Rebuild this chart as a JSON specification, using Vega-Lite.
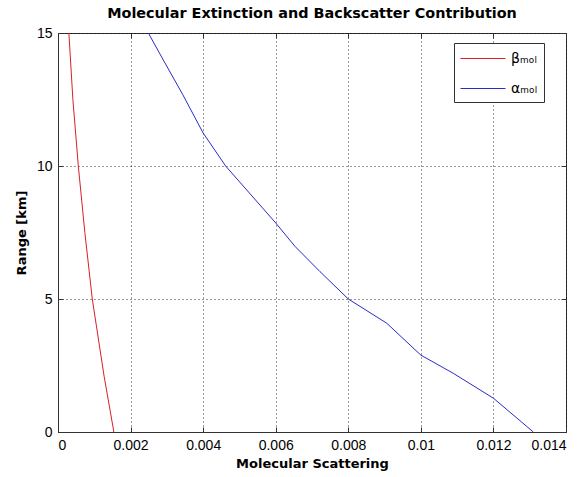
{
  "$schema": "https://vega.github.io/schema/vega-lite/v6.json",
  "width": 508,
  "height": 399,
  "autosize": {"type": "none"},
  "padding": {"left": 58, "top": 33, "right": 14, "bottom": 45},
  "background": "white",
  "title": {"text": "Molecular Extinction and Backscatter Contribution", "font": "DejaVu Sans", "fontSize": 14.4, "fontWeight": "bold", "color": "black", "anchor": "middle", "offset": 5},
  "config": {
    "view": {"stroke": "#333", "strokeWidth": 1},
    "axis": {
      "labelFont": "Liberation Sans", "labelFontSize": 14, "labelColor": "black",
      "titleFont": "DejaVu Sans", "titleFontSize": 13, "titleFontWeight": "bold", "titleColor": "black",
      "domainColor": "#333", "tickColor": "#333", "tickSize": -5,
      "gridColor": "#000", "gridDash": [1, 3], "gridOpacity": 0.8
    },
    "legend": {
      "orient": "none", "legendX": 396, "legendY": 10, "strokeColor": "#333", "fillColor": "white",
      "padding": 6, "symbolType": "M-1,0H4", "symbolStrokeWidth": 1, "symbolSize": 324,
      "labelOffset": 32, "rowPadding": 13,
      "labelFont": "DejaVu Sans", "labelFontSize": 14, "labelColor": "black"
    }
  },
  "data": {"values": [
    {"series": "βₘₒₗ", "x": 0.00154, "range": 0},
    {"series": "βₘₒₗ", "x": 0.00127, "range": 2.1},
    {"series": "βₘₒₗ", "x": 0.000945, "range": 5},
    {"series": "βₘₒₗ", "x": 0.00074, "range": 7.5},
    {"series": "βₘₒₗ", "x": 0.00056, "range": 10},
    {"series": "βₘₒₗ", "x": 0.00041, "range": 12.5},
    {"series": "βₘₒₗ", "x": 0.0003, "range": 15},
    {"series": "αₘₒₗ", "x": 0.0131, "range": 0},
    {"series": "αₘₒₗ", "x": 0.0120, "range": 1.27},
    {"series": "αₘₒₗ", "x": 0.01089, "range": 2.21},
    {"series": "αₘₒₗ", "x": 0.0100, "range": 2.89},
    {"series": "αₘₒₗ", "x": 0.00906, "range": 4.09},
    {"series": "αₘₒₗ", "x": 0.0080, "range": 5},
    {"series": "αₘₒₗ", "x": 0.00722, "range": 6.03},
    {"series": "αₘₒₗ", "x": 0.00653, "range": 6.98},
    {"series": "αₘₒₗ", "x": 0.0060, "range": 7.86},
    {"series": "αₘₒₗ", "x": 0.00462, "range": 10},
    {"series": "αₘₒₗ", "x": 0.0040, "range": 11.24},
    {"series": "αₘₒₗ", "x": 0.00344, "range": 12.68},
    {"series": "αₘₒₗ", "x": 0.00292, "range": 13.94},
    {"series": "αₘₒₗ", "x": 0.00249, "range": 15}
  ]},
  "layer": [
    {
      "mark": {"type": "line", "strokeWidth": 1, "clip": true},
      "encoding": {
        "x": {"field": "x", "type": "quantitative", "scale": {"domain": [0, 0.014], "nice": false, "zero": false},
              "axis": {"values": [0, 0.002, 0.004, 0.006, 0.008, 0.01, 0.012, 0.014], "format": ".3~f", "title": "Molecular Scattering", "grid": true, "labelPadding": 11, "titlePadding": 5}},
        "y": {"field": "range", "type": "quantitative", "scale": {"domain": [0, 15], "nice": false},
              "axis": {"values": [0, 5, 10, 15], "title": "Range [km]", "grid": true, "labelPadding": 11, "titlePadding": 8}},
        "color": {"field": "series", "type": "nominal", "scale": {"domain": ["βₘₒₗ", "αₘₒₗ"], "range": ["#d81f2a", "#2b2bc8"]}, "legend": {"title": null}},
        "order": {"field": "range", "type": "quantitative"}
      }
    },
    {
      "mark": {"type": "line", "opacity": 0},
      "encoding": {
        "x": {"field": "x", "type": "quantitative", "axis": {"orient": "top", "values": [0, 0.002, 0.004, 0.006, 0.008, 0.01, 0.012, 0.014], "labels": false, "title": null, "grid": false, "domain": false}},
        "y": {"field": "range", "type": "quantitative", "axis": {"orient": "right", "values": [0, 5, 10, 15], "labels": false, "title": null, "grid": false, "domain": false}},
        "detail": {"field": "series"},
        "order": {"field": "range", "type": "quantitative"}
      }
    }
  ],
  "resolve": {"axis": {"x": "independent", "y": "independent"}}
}
